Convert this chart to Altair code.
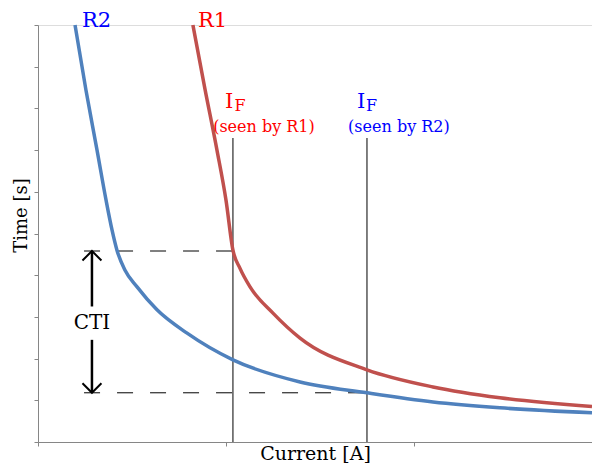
import altair as alt
import pandas as pd

# curve readings (x: current units, y: time units)
r2_x = [0.197, 0.255, 0.314, 0.362, 0.394, 0.420, 0.463, 0.527, 0.633, 0.793, 1.037, 1.394, 1.75, 2.101, 2.457, 2.947]
r2_y = [10.0, 8.44, 7.00, 5.80, 5.08, 4.60, 4.12, 3.72, 3.17, 2.61, 1.97, 1.44, 1.18, 0.96, 0.82, 0.70]
r1_x = [0.824, 0.888, 0.952, 1.000, 1.037, 1.074, 1.128, 1.25, 1.394, 1.75, 2.101, 2.457, 2.947]
r1_y = [10.0, 8.47, 7.00, 5.80, 4.60, 4.17, 3.72, 3.09, 2.49, 1.73, 1.32, 1.06, 0.85]

# fault currents and trip times
if_r1 = 1.037
if_r2 = 1.75
t_r1 = 4.58
t_r2 = 1.18
line_top = 7.29
dash_start = 0.245
arrow_x = 0.287
cti_y = 2.85
gap_top = 3.25
gap_bottom = 2.45

curves = pd.DataFrame(
    {"x": r2_x + r1_x, "y": r2_y + r1_y,
     "relay": ["R2"] * len(r2_x) + ["R1"] * len(r1_x)}
)

XS = alt.Scale(domain=[0, 2.947], nice=False, zero=False)
YS = alt.Scale(domain=[0, 10], nice=False, zero=False)
FONT = "DejaVu Serif"

xaxis = alt.Axis(values=[0, 1, 2], labels=False, grid=False, tickSize=4,
                 domainColor="#868686", tickColor="#868686", title="Current [A]",
                 titleFont=FONT, titleFontSize=19, titleFontWeight="normal",
                 titleColor="#000000", titleX=277, titleY=17, titleAlign="center",
                 titleBaseline="alphabetic")
yaxis = alt.Axis(values=list(range(0, 11)), labels=False, grid=False, tickSize=4,
                 domainColor="#868686", tickColor="#868686", title="Time [s]",
                 titleFont=FONT, titleFontSize=18, titleFontWeight="normal",
                 titleColor="#000000", titleX=-17, titleY=190, titleAngle=-90,
                 titleAlign="center", titleBaseline="middle")

lines = alt.Chart(curves).mark_line(strokeWidth=3.5, interpolate="monotone").encode(
    x=alt.X("x:Q", scale=XS, axis=xaxis),
    y=alt.Y("y:Q", scale=YS, axis=yaxis),
    color=alt.Color("relay:N", scale=alt.Scale(domain=["R2", "R1"], range=["#4F81BD", "#C0504D"]), legend=None),
    detail="relay:N",
)

vdf = pd.DataFrame({"x": [if_r1, if_r2], "y": [0, 0], "y2": [line_top, line_top]})
vlines = alt.Chart(vdf).mark_rule(color="black", strokeWidth=1).encode(
    x=alt.X("x:Q", scale=XS, axis=xaxis), y=alt.Y("y:Q", scale=YS, axis=yaxis), y2="y2:Q")

ddf = pd.DataFrame({"x": [dash_start, dash_start], "x2": [if_r1, if_r2], "y": [t_r1, t_r2]})
dlines = alt.Chart(ddf).mark_rule(color="black", strokeWidth=1, strokeDash=[16, 17]).encode(
    x=alt.X("x:Q", scale=XS, axis=xaxis), x2="x2:Q", y=alt.Y("y:Q", scale=YS, axis=yaxis))

adf = pd.DataFrame({"x": [arrow_x, arrow_x], "y": [t_r1, gap_bottom], "y2": [gap_top, t_r2]})
ashaft = alt.Chart(adf).mark_rule(color="black", strokeWidth=2.5).encode(
    x=alt.X("x:Q", scale=XS, axis=xaxis), y=alt.Y("y:Q", scale=YS, axis=yaxis), y2="y2:Q")

head_up = alt.Chart(pd.DataFrame({"x": [arrow_x], "y": [t_r1]})).mark_point(
    shape="M -1 1 L 0 0 L 1 1", size=360, filled=False, color="black", strokeWidth=2, opacity=1
).encode(x=alt.X("x:Q", scale=XS, axis=xaxis), y=alt.Y("y:Q", scale=YS, axis=yaxis))
head_down = alt.Chart(pd.DataFrame({"x": [arrow_x], "y": [t_r2]})).mark_point(
    shape="M -1 -1 L 0 0 L 1 -1", size=360, filled=False, color="black", strokeWidth=2, opacity=1
).encode(x=alt.X("x:Q", scale=XS, axis=xaxis), y=alt.Y("y:Q", scale=YS, axis=yaxis))

cti = alt.Chart(pd.DataFrame({"x": [arrow_x], "y": [cti_y], "t": ["CTI"]})).mark_text(
    font=FONT, fontSize=20, color="black", align="center", baseline="middle"
).encode(x=alt.X("x:Q", scale=XS, axis=xaxis), y=alt.Y("y:Q", scale=YS, axis=yaxis), text="t:N")

# labels
lab_x = [0.234, 0.851, 0.995, 1.697]
lab_y = [9.95, 9.95, 8.0, 8.0]
lab_t = ["R2", "R1", "I", "I"]
lab_c = ["#0000FF", "#FF0000", "#FF0000", "#0000FF"]
big = alt.Chart(pd.DataFrame({"x": lab_x, "y": lab_y, "t": lab_t, "c": lab_c})).mark_text(
    font=FONT, fontSize=21, align="left", baseline="alphabetic"
).encode(x=alt.X("x:Q", scale=XS, axis=xaxis), y=alt.Y("y:Q", scale=YS, axis=yaxis), text="t:N",
         color=alt.Color("c:N", scale=None))

sub_x = [1.045, 1.745]
sub_y = [7.93, 7.93]
sub = alt.Chart(pd.DataFrame({"x": sub_x, "y": sub_y, "t": ["F", "F"], "c": ["#FF0000", "#0000FF"]})).mark_text(
    font=FONT, fontSize=16, align="left", baseline="alphabetic"
).encode(x=alt.X("x:Q", scale=XS, axis=xaxis), y=alt.Y("y:Q", scale=YS, axis=yaxis), text="t:N",
         color=alt.Color("c:N", scale=None))

seen_x = [1.202, 1.92]
seen_y = [7.44, 7.44]
seen_t = ["(seen by R1)", "(seen by R2)"]
seen = alt.Chart(pd.DataFrame({"x": seen_x, "y": seen_y, "t": seen_t, "c": ["#FF0000", "#0000FF"]})).mark_text(
    font=FONT, fontSize=16, align="center", baseline="alphabetic"
).encode(x=alt.X("x:Q", scale=XS, axis=xaxis), y=alt.Y("y:Q", scale=YS, axis=yaxis), text="t:N",
         color=alt.Color("c:N", scale=None))

chart = alt.layer(vlines, dlines, ashaft, head_up, head_down, cti, lines, big, sub, seen).properties(
    width=554, height=417,
    autosize=alt.AutoSizeParams(type="none"),
    padding={"left": 30, "top": 17, "right": 0, "bottom": 22},
).configure_view(stroke="transparent", strokeWidth=0).configure_axis(grid=False).configure(background="white")

chart.save("out.html", embed_options={"renderer": "svg", "actions": False})
